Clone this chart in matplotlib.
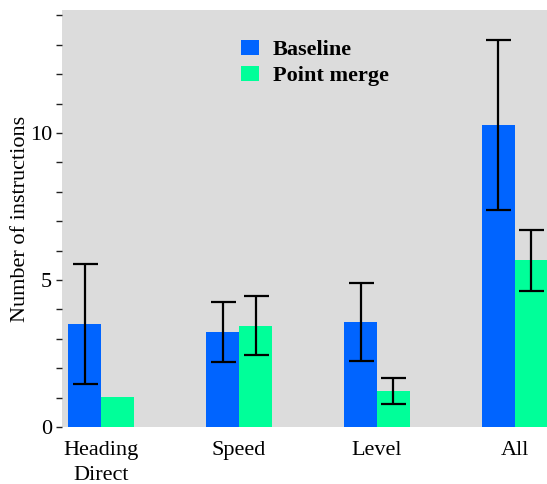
import matplotlib
matplotlib.use("Agg")
import matplotlib.pyplot as plt
import numpy as np
from matplotlib.patches import Patch

categories = ["Heading\nDirect", "Speed", "Level", "All"]
baseline = [3.50, 3.24, 3.57, 10.27]
baseline_err = [2.05, 1.02, 1.31, 2.90]
merge = [1.02, 3.45, 1.22, 5.67]
merge_err = [0.0, 1.01, 0.43, 1.04]
series_names = ["Baseline", "Point merge"]
colors = ["#0064FF", "#00FF99"]

plt.rcParams['font.family'] = ['Liberation Serif', 'DejaVu Serif']
FS = 16

fig = plt.figure(figsize=(5.47, 4.84), dpi=100)
ax = fig.add_axes([62/547, 57/484, 1 - 62/547, (427-10)/484])
ax.set_facecolor("#DCDCDC")

x = np.arange(len(categories))
w = 0.239
ax.bar(x - w/2, baseline, w, color=colors[0], linewidth=0)
ax.bar(x + w/2, merge, w, color=colors[1], linewidth=0)
ax.errorbar(x - w/2, baseline, yerr=baseline_err, fmt='none', ecolor='black',
            elinewidth=1.6, capsize=9, capthick=1.6)
mx = [xi + w/2 for xi, e in zip(x, merge_err) if e > 0]
my = [m for m, e in zip(merge, merge_err) if e > 0]
me = [e for e in merge_err if e > 0]
ax.errorbar(mx, my, yerr=me, fmt='none', ecolor='black',
            elinewidth=1.6, capsize=9, capthick=1.6)

ax.set_xlim(-0.283, 3.232)
ax.set_ylim(0, 14.18)
for s in ax.spines.values():
    s.set_visible(False)
ax.set_yticks([0, 5, 10])
ax.set_yticks(np.arange(0, 15, 1), minor=True)
ax.tick_params(axis='y', which='both', direction='out', length=4, width=1, color='#222222',
               labelsize=FS, pad=3)
ax.set_xticks(x)
ax.set_xticklabels(categories, fontsize=FS, linespacing=1.45)
ax.tick_params(axis='x', length=0, pad=10)
ax.set_ylabel("Number of instructions", fontsize=FS, labelpad=0)

handles = [Patch(facecolor=c, edgecolor='none') for c in colors]
leg = ax.legend(handles, series_names, loc='upper left', bbox_to_anchor=(0.328, 0.977),
                frameon=False, prop={'weight': 'bold', 'size': FS},
                handlelength=0.82, handleheight=0.7, handletextpad=0.6, labelspacing=0.25)

fig.savefig("out.png", dpi=100)
